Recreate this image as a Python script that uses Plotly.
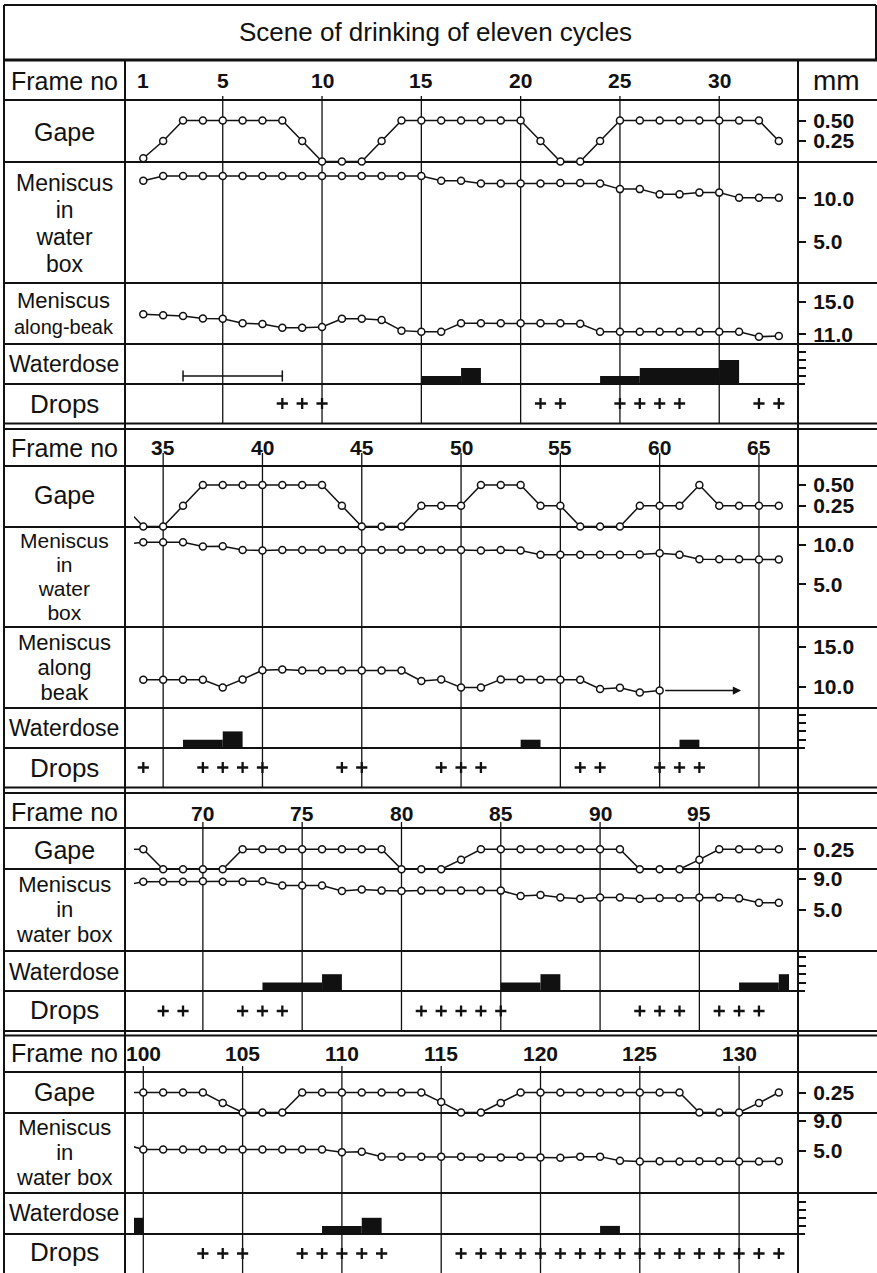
import plotly.graph_objects as go

# ---------------------------------------------------------------- data
TITLE = "Scene of drinking of eleven cycles"

frames_1 = list(range(1, 34))
frames_2 = list(range(34, 67))
frames_3 = list(range(67, 100))
frames_4 = list(range(100, 133))

frame_ticks_1 = [1, 5, 10, 15, 20, 25, 30]
frame_ticks_2 = [35, 40, 45, 50, 55, 60, 65]
frame_ticks_3 = [70, 75, 80, 85, 90, 95]
frame_ticks_4 = [100, 105, 110, 115, 120, 125, 130]

# gape (mm)
gape_1 = [0.04, 0.25, 0.5, 0.5, 0.5, 0.5, 0.5, 0.5, 0.25, 0,
          0, 0, 0.25, 0.5, 0.5, 0.5, 0.5, 0.5, 0.5, 0.5,
          0.25, 0, 0, 0.25, 0.5, 0.5, 0.5, 0.5, 0.5, 0.5,
          0.5, 0.5, 0.25]
gape_2 = [0, 0, 0.25, 0.5, 0.5, 0.5, 0.5, 0.5, 0.5, 0.5,
          0.25, 0, 0, 0, 0.25, 0.25, 0.25, 0.5, 0.5, 0.5,
          0.25, 0.25, 0, 0, 0, 0.25, 0.25, 0.25, 0.5, 0.25,
          0.25, 0.25, 0.25]
gape_3 = [0.25, 0, 0, 0, 0, 0.25, 0.25, 0.25, 0.25, 0.25,
          0.25, 0.25, 0.25, 0, 0, 0, 0.12, 0.25, 0.25, 0.25,
          0.25, 0.25, 0.25, 0.25, 0.25, 0, 0, 0, 0.12, 0.25,
          0.25, 0.25, 0.25]
gape_4 = [0.25, 0.25, 0.25, 0.25, 0.12, 0, 0, 0, 0.25, 0.25,
          0.25, 0.25, 0.25, 0.25, 0.25, 0.13, 0, 0, 0.12, 0.25,
          0.25, 0.25, 0.25, 0.25, 0.25, 0.25, 0.25, 0.25, 0, 0,
          0, 0.12, 0.25]

# meniscus in water box (mm)
box_1 = [12.0, 12.55, 12.55, 12.55, 12.55, 12.55, 12.55, 12.55, 12.55, 12.55,
         12.55, 12.55, 12.55, 12.55, 12.55, 12.0, 12.0, 11.7, 11.7, 11.7,
         11.7, 11.75, 11.75, 11.7, 11.05, 11.05, 10.45, 10.45, 10.65, 10.65,
         10.05, 10.05, 10.05]
box_2 = [10.35, 10.35, 10.35, 9.8, 9.85, 9.35, 9.3, 9.35, 9.35, 9.4,
         9.35, 9.35, 9.35, 9.4, 9.35, 9.35, 9.35, 9.3, 9.35, 9.3,
         8.75, 8.75, 8.75, 8.75, 8.75, 8.8, 8.95, 8.75, 8.2, 8.2,
         8.2, 8.15, 8.15]
box_3 = [8.65, 8.65, 8.65, 8.7, 8.65, 8.65, 8.7, 8.15, 8.15, 8.15,
         7.45, 7.65, 7.5, 7.45, 7.5, 7.5, 7.5, 7.5, 7.5, 6.8,
         6.95, 6.6, 6.45, 6.6, 6.6, 6.45, 6.55, 6.55, 6.6, 6.6,
         6.5, 5.95, 5.95]
box_4 = [5.2, 5.2, 5.2, 5.2, 5.2, 5.2, 5.2, 5.2, 5.2, 5.2,
         4.85, 4.9, 4.25, 4.25, 4.25, 4.25, 4.25, 4.15, 4.15, 4.25,
         4.15, 4.1, 4.25, 4.25, 3.7, 3.6, 3.65, 3.6, 3.65, 3.65,
         3.6, 3.6, 3.65]

# meniscus along beak (mm)
beak_1 = [13.45, 13.35, 13.25, 12.95, 12.9, 12.35, 12.25, 11.8, 11.8, 11.9,
          12.9, 12.9, 12.75, 11.45, 11.3, 11.3, 12.35, 12.35, 12.35, 12.35,
          12.35, 12.35, 12.3, 11.3, 11.3, 11.3, 11.3, 11.3, 11.3, 11.3,
          11.3, 10.7, 10.8]
beak_2_frames = list(range(34, 61))
beak_2 = [10.9, 10.9, 10.9, 10.9, 9.95, 10.95, 12.1, 12.2, 12.05, 12.05,
          12.05, 12.05, 12.05, 12.05, 10.75, 10.95, 9.95, 9.95, 10.95, 10.95,
          10.9, 10.9, 10.9, 9.75, 9.9, 9.3, 9.55]
beak_2_trend_end = 64.1

# water dose steps: start frame, end frame, level
dose_1_start = [15, 17, 24, 26, 30]
dose_1_end = [17, 18, 26, 30, 31]
dose_1_level = [1, 2, 1, 2, 3]
dose_1_span = [3, 8]
dose_1_span_level = 1

dose_2_start = [36, 38, 53, 61]
dose_2_end = [38, 39, 54, 62]
dose_2_level = [1, 2, 1, 1]

dose_3_start = [73, 76, 85, 87, 97, 99]
dose_3_end = [76, 77, 87, 88, 99, 100]
dose_3_level = [1, 2, 1, 2, 1, 2]

dose_4_start = [99, 109, 111, 123]
dose_4_end = [100, 111, 112, 124]
dose_4_level = [2, 1, 2, 1]

# frames in which a drop fell
drops_1 = [8, 9, 10, 21, 22, 25, 26, 27, 28, 32, 33]
drops_2 = [34, 37, 38, 39, 40, 44, 45, 49, 50, 51, 56, 57, 60, 61, 62]
drops_3 = [68, 69, 72, 73, 74, 81, 82, 83, 84, 85, 92, 93, 94, 96, 97, 98]
drops_4 = [103, 104, 105, 108, 109, 110, 111, 112, 116, 117, 118, 119, 120,
           121, 122, 123, 124, 125, 126, 127, 128, 129, 130, 131, 132]

# scale labels in the mm column
gape_ticks_full = [0.5, 0.25]
gape_text_full = ["0.50", "0.25"]
gape_ticks_low = [0.25]
gape_text_low = ["0.25"]
box_ticks_hi = [10, 5]
box_text_hi = ["10.0", "5.0"]
box_ticks_lo = [9, 5]
box_text_lo = ["9.0", "5.0"]
beak_ticks_1 = [15, 11]
beak_text_1 = ["15.0", "11.0"]
beak_ticks_2 = [15, 10]
beak_text_2 = ["15.0", "10.0"]
dose_ticks = [1, 2, 3, 4]

# ---------------------------------------------------------------- page geometry
W, H = 877, 1273
FONT = "Liberation Sans, Arial, Helvetica, sans-serif"
INK = "#111111"


def fx(p):
    return p / W


def fy(p):
    return 1 - p / H


FIRST_FRAME_PX = 143.3
FRAME_PX = 19.86
PLOT_LEFT, PLOT_RIGHT = 134, 789
SCALE_X = 798
LEFT_X, LABEL_X, RIGHT_X = 4, 125, 877
ROW_PAD = 6  # let markers sitting on a row rule stay inside their subplot

fig = go.Figure()
layout = {}
shapes = []
annotations = []
counter = {"y": 0}


def new_xaxis(i, f0):
    lo = f0 + (PLOT_LEFT - FIRST_FRAME_PX) / FRAME_PX
    hi = f0 + (PLOT_RIGHT - FIRST_FRAME_PX) / FRAME_PX
    key = "xaxis" if i == 1 else f"xaxis{i}"
    layout[key] = dict(domain=[fx(PLOT_LEFT), fx(PLOT_RIGHT)], range=[lo, hi],
                       visible=False, fixedrange=True, anchor="free", position=0)
    return "x" if i == 1 else f"x{i}"


def new_yaxis(top, bot, v_ref, p_ref, k, tickvals=None, ticktext=None, pad=ROW_PAD):
    counter["y"] += 1
    i = counter["y"]
    top, bot = max(top - pad, 0), min(bot + pad, H)
    lo = v_ref + (p_ref - bot) / k
    hi = v_ref + (p_ref - top) / k
    ax = dict(domain=[fy(bot), fy(top)], range=[lo, hi], anchor="free",
              position=fx(SCALE_X), side="right", showgrid=False,
              zeroline=False, showline=False, fixedrange=True)
    if tickvals:
        ax.update(tickmode="array", tickvals=tickvals, ticks="outside",
                  ticklen=7, tickwidth=1.6, tickcolor=INK,
                  showticklabels=bool(ticktext), ticklabelstandoff=3,
                  tickfont=dict(family=FONT, size=21, color=INK, weight="bold"))
        if ticktext:
            ax["ticktext"] = ticktext
    else:
        ax.update(showticklabels=False, ticks="")
    key = "yaxis" if i == 1 else f"yaxis{i}"
    layout[key] = ax
    return "y" if i == 1 else f"y{i}"


def hline(y, x0=LEFT_X, x1=RIGHT_X, w=1.8):
    shapes.append(dict(type="line", xref="paper", yref="paper", layer="below",
                       x0=fx(x0), x1=fx(x1), y0=fy(y), y1=fy(y),
                       line=dict(color=INK, width=w)))


def vline(x, y0, y1, w=1.8):
    shapes.append(dict(type="line", xref="paper", yref="paper", layer="below",
                       x0=fx(x), x1=fx(x), y0=fy(y0), y1=fy(y1),
                       line=dict(color=INK, width=w)))


def label(text, y, size=26, x=64):
    annotations.append(dict(text=text, xref="paper", yref="paper", x=fx(x), y=fy(y),
                            xanchor="center", yanchor="middle", showarrow=False,
                            font=dict(family=FONT, size=size, color=INK)))


def stacked_label(lines, y, spacing, sizes, x=64):
    # one text block; the outer size sets the line pitch, spans set glyph size
    text = "<br>".join(f"<span style='font-size:{s}px'>{t}</span>"
                       for t, s in zip(lines, sizes))
    annotations.append(dict(text=text, xref="paper", yref="paper", x=fx(x), y=fy(y),
                            xanchor="center", yanchor="middle", showarrow=False,
                            align="center",
                            font=dict(family=FONT, size=spacing / 1.3, color=INK)))


LINE = dict(color=INK, width=1.5)
MARK = dict(symbol="circle", size=7, color="white", line=dict(color=INK, width=1.5))


def series(xr, yr, frames, values, lead=None):
    if lead is not None:
        fig.add_trace(go.Scatter(x=[lead[0], frames[0]], y=[lead[1], values[0]],
                                 mode="lines", line=LINE, xaxis=xr, yaxis=yr,
                                 hoverinfo="skip", showlegend=False))
    fig.add_trace(go.Scatter(x=frames, y=values, mode="lines+markers", line=LINE,
                             marker=MARK, cliponaxis=False, xaxis=xr, yaxis=yr,
                             showlegend=False))


def dose(xr, yr, starts, ends, levels):
    fig.add_trace(go.Bar(x=[(s + e) / 2 for s, e in zip(starts, ends)],
                         width=[e - s for s, e in zip(starts, ends)],
                         y=levels, base=0, marker=dict(color=INK, line=dict(width=0)),
                         xaxis=xr, yaxis=yr, showlegend=False))


def drops(xr, yr, frames):
    fig.add_trace(go.Scatter(x=frames, y=[0.5] * len(frames), mode="markers",
                             marker=dict(symbol="cross-thin", size=8,
                                         line=dict(color=INK, width=2.3)),
                             cliponaxis=False, xaxis=xr, yaxis=yr, showlegend=False))


def frame_grid(xr, ticks, top, bottom, y_text):
    for f in ticks:
        if f % 5 == 0:
            shapes.append(dict(type="line", xref=xr, yref="paper", layer="below",
                               x0=f, x1=f, y0=fy(bottom), y1=fy(top),
                               line=dict(color=INK, width=1.3)))
        annotations.append(dict(text=str(f), xref=xr, yref="paper", x=f, y=fy(y_text),
                                xanchor="center", yanchor="middle", showarrow=False,
                                font=dict(family=FONT, size=21, color=INK, weight="bold")))


# ---------------------------------------------------------------- title box
hline(5, LEFT_X, 876, 2)
hline(60, LEFT_X, RIGHT_X, 3)
vline(LEFT_X, 5, 1273, 2)
vline(876, 5, 60, 2)
vline(LABEL_X, 60, 1273, 2)
vline(SCALE_X, 60, 1273, 2)
label(TITLE, 32, size=26, x=435)
label("mm", 81, size=28, x=836)

# ---------------------------------------------------------------- panel 1
x1 = new_xaxis(1, 1)
y_gape1 = new_yaxis(100, 162, 0, 161.5, 82, gape_ticks_full, gape_text_full)
y_box1 = new_yaxis(162, 283, 10, 198.3, 8.74, box_ticks_hi, box_text_hi)
y_beak1 = new_yaxis(283, 344, 11, 334.3, 8.15, beak_ticks_1, beak_text_1)
y_dose1 = new_yaxis(344, 384, 0, 384, 8.0, dose_ticks)
y_drop1 = new_yaxis(384, 423, 0, 423, 39, pad=0)

series(x1, y_gape1, frames_1, gape_1)
series(x1, y_box1, frames_1, box_1)
series(x1, y_beak1, frames_1, beak_1)
dose(x1, y_dose1, dose_1_start, dose_1_end, dose_1_level)
fig.add_trace(go.Scatter(x=dose_1_span, y=[dose_1_span_level] * 2, mode="lines+markers",
                         line=dict(color=INK, width=1.5),
                         marker=dict(symbol="line-ns", size=8, line=dict(color=INK, width=1.5)),
                         xaxis=x1, yaxis=y_dose1, showlegend=False))
drops(x1, y_drop1, drops_1)
frame_grid(x1, frame_ticks_1, 96, 423, 80)

for y in (100, 162, 283, 344):
    hline(y)
hline(384, LEFT_X, 805)
hline(423.5, w=2.2)
hline(429, w=2)
label("Frame no", 81, 25)
label("Gape", 132, 25)
stacked_label(["Meniscus", "in", "water", "box"], 224, 27, [23, 23, 23, 23])
stacked_label(["Meniscus", "along-beak"], 313, 26, [22, 20])
label("Waterdose", 364, 23)
label("Drops", 404)

# ---------------------------------------------------------------- panel 2
x2 = new_xaxis(2, 34)
y_gape2 = new_yaxis(466, 527, 0, 526.5, 83, gape_ticks_full, gape_text_full)
y_box2 = new_yaxis(527, 627, 10, 545, 7.86, box_ticks_hi, box_text_hi)
y_beak2 = new_yaxis(627, 708, 10, 687, 8.0, beak_ticks_2, beak_text_2)
y_dose2 = new_yaxis(708, 748, 0, 748, 8.3, dose_ticks)
y_drop2 = new_yaxis(748, 787, 0, 787, 39, pad=0)

series(x2, y_gape2, frames_2, gape_2, lead=(frames_1[-1], gape_1[-1]))
series(x2, y_box2, frames_2, box_2, lead=(frames_1[-1], box_1[-1]))
series(x2, y_beak2, beak_2_frames, beak_2)
annotations.append(dict(x=beak_2_trend_end, y=beak_2[-1], ax=beak_2_frames[-1], ay=beak_2[-1],
                        xref=x2, yref=y_beak2, axref=x2, ayref=y_beak2, text="",
                        showarrow=True, arrowhead=2, arrowsize=1.1, arrowwidth=1.5,
                        arrowcolor=INK, startstandoff=4))
dose(x2, y_dose2, dose_2_start, dose_2_end, dose_2_level)
drops(x2, y_drop2, drops_2)
frame_grid(x2, frame_ticks_2, 453, 787, 448)

for y in (466, 527, 627, 708):
    hline(y)
hline(748, LEFT_X, 805)
hline(787.5, w=2.2)
hline(793, w=2)
label("Frame no", 448, 25)
label("Gape", 495, 25)
stacked_label(["Meniscus", "in", "water", "box"], 577, 24, [21, 21, 21, 21])
stacked_label(["Meniscus", "along", "beak"], 667, 25, [22, 22, 22])
label("Waterdose", 728, 23)
label("Drops", 768)

# ---------------------------------------------------------------- panel 3
x3 = new_xaxis(3, 67)
y_gape3 = new_yaxis(828, 869, 0, 869.3, 80, gape_ticks_low, gape_text_low)
y_box3 = new_yaxis(869, 951, 9, 879, 7.75, box_ticks_lo, box_text_lo)
y_dose3 = new_yaxis(951, 991, 0, 991, 8.4, dose_ticks)
y_drop3 = new_yaxis(991, 1031, 0, 1031, 40, pad=0)

series(x3, y_gape3, frames_3, gape_3, lead=(frames_2[-1], gape_2[-1]))
series(x3, y_box3, frames_3, box_3, lead=(frames_2[-1], box_2[-1]))
dose(x3, y_dose3, dose_3_start, dose_3_end, dose_3_level)
drops(x3, y_drop3, drops_3)
frame_grid(x3, frame_ticks_3, 822, 1031, 813)

for y in (828, 869, 951):
    hline(y)
hline(991, LEFT_X, 805)
hline(1031, w=2.2)
hline(1035.5, w=2)
label("Frame no", 812, 25)
label("Gape", 850, 25)
stacked_label(["Meniscus", "in", "water box"], 909, 25, [22, 22, 22])
label("Waterdose", 972, 23)
label("Drops", 1010)

# ---------------------------------------------------------------- panel 4
x4 = new_xaxis(4, 100)
y_gape4 = new_yaxis(1072, 1113, 0, 1112.5, 80, gape_ticks_low, gape_text_low)
y_box4 = new_yaxis(1113, 1193, 9, 1121, 7.5, box_ticks_lo, box_text_lo)
y_dose4 = new_yaxis(1193, 1234, 0, 1234, 8.1, dose_ticks)
y_drop4 = new_yaxis(1234, 1273, 0, 1273, 39, pad=0)

series(x4, y_gape4, frames_4, gape_4, lead=(frames_3[-1], gape_3[-1]))
series(x4, y_box4, frames_4, box_4, lead=(frames_3[-1], box_3[-1]))
dose(x4, y_dose4, dose_4_start, dose_4_end, dose_4_level)
drops(x4, y_drop4, drops_4)
frame_grid(x4, frame_ticks_4, 1066, 1273, 1053)

for y in (1072, 1113, 1193):
    hline(y)
hline(1234, LEFT_X, 805)
label("Frame no", 1053, 25)
label("Gape", 1092, 25)
stacked_label(["Meniscus", "in", "water box"], 1152, 25, [22, 22, 22])
label("Waterdose", 1213, 23)
label("Drops", 1252)

# ---------------------------------------------------------------- layout
fig.update_layout(
    template="none",
    width=W, height=H, autosize=False,
    margin=dict(l=0, r=0, t=0, b=0, pad=0),
    paper_bgcolor="white", plot_bgcolor="rgba(0,0,0,0)",
    barmode="overlay", showlegend=False,
    font=dict(family=FONT, color=INK),
    shapes=shapes, annotations=annotations,
    **layout,
)

fig.write_html("out.html", include_plotlyjs=True,
               post_script="document.body.style.margin='0';")
